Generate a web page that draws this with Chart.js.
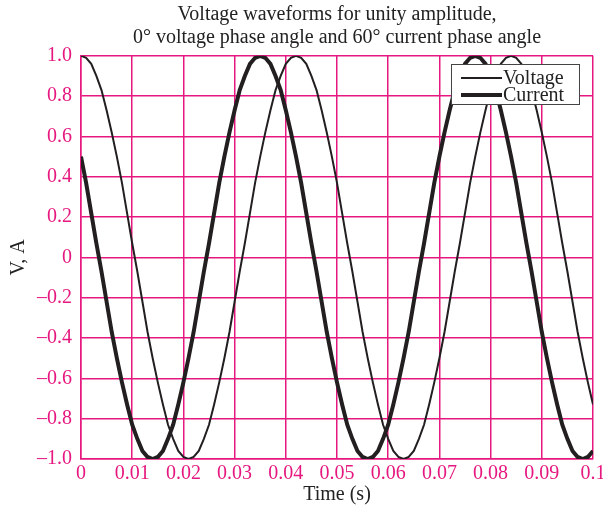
<!DOCTYPE html>
<html>
<head>
<meta charset="utf-8">
<script src="https://cdn.jsdelivr.net/npm/chart.js@4.4.1/dist/chart.umd.min.js"></script>
<style>
  body { margin: 0; background: #fff; }
  #wrap { width: 603px; height: 509px; }
</style>
</head>
<body>
<div id="wrap"><canvas id="wave" width="603" height="509"></canvas></div>
<script>
// time samples (s), read every 1 ms
const times = [
  0.000,0.001,0.002,0.003,0.004,0.005,0.006,0.007,0.008,0.009,
  0.010,0.011,0.012,0.013,0.014,0.015,0.016,0.017,0.018,0.019,
  0.020,0.021,0.022,0.023,0.024,0.025,0.026,0.027,0.028,0.029,
  0.030,0.031,0.032,0.033,0.034,0.035,0.036,0.037,0.038,0.039,
  0.040,0.041,0.042,0.043,0.044,0.045,0.046,0.047,0.048,0.049,
  0.050,0.051,0.052,0.053,0.054,0.055,0.056,0.057,0.058,0.059,
  0.060,0.061,0.062,0.063,0.064,0.065,0.066,0.067,0.068,0.069,
  0.070,0.071,0.072,0.073,0.074,0.075,0.076,0.077,0.078,0.079,
  0.080,0.081,0.082,0.083,0.084,0.085,0.086,0.087,0.088,0.089,
  0.090,0.091,0.092,0.093,0.094,0.095,0.096,0.097,0.098,0.099,
  0.100
];

const voltage = [
  1.00,0.99,0.96,0.90,0.83,0.73,0.62,0.50,0.37,0.22,
  0.07,-0.07,-0.22,-0.37,-0.50,-0.62,-0.73,-0.83,-0.90,-0.96,
  -0.99,-1.00,-0.99,-0.96,-0.90,-0.83,-0.73,-0.62,-0.50,-0.37,
  -0.22,-0.07,0.07,0.22,0.37,0.50,0.62,0.73,0.83,0.90,
  0.96,0.99,1.00,0.99,0.96,0.90,0.83,0.73,0.62,0.50,
  0.37,0.22,0.07,-0.07,-0.22,-0.37,-0.50,-0.62,-0.73,-0.83,
  -0.90,-0.96,-0.99,-1.00,-0.99,-0.96,-0.90,-0.83,-0.73,-0.62,
  -0.50,-0.37,-0.22,-0.07,0.07,0.22,0.37,0.50,0.62,0.73,
  0.83,0.90,0.96,0.99,1.00,0.99,0.96,0.90,0.83,0.73,
  0.62,0.50,0.37,0.22,0.07,-0.07,-0.22,-0.37,-0.50,-0.62,
  -0.73
];

const current = [
  0.50,0.37,0.22,0.07,-0.07,-0.22,-0.37,-0.50,-0.62,-0.73,
  -0.83,-0.90,-0.96,-0.99,-1.00,-0.99,-0.96,-0.90,-0.83,-0.73,
  -0.62,-0.50,-0.37,-0.22,-0.07,0.07,0.22,0.37,0.50,0.62,
  0.73,0.83,0.90,0.96,0.99,1.00,0.99,0.96,0.90,0.83,
  0.73,0.62,0.50,0.37,0.22,0.07,-0.07,-0.22,-0.37,-0.50,
  -0.62,-0.73,-0.83,-0.90,-0.96,-0.99,-1.00,-0.99,-0.96,-0.90,
  -0.83,-0.73,-0.62,-0.50,-0.37,-0.22,-0.07,0.07,0.22,0.37,
  0.50,0.62,0.73,0.83,0.90,0.96,0.99,1.00,0.99,0.96,
  0.90,0.83,0.73,0.62,0.50,0.37,0.22,0.07,-0.07,-0.22,
  -0.37,-0.50,-0.62,-0.73,-0.83,-0.90,-0.96,-0.99,-1.00,-0.99,
  -0.96
];

const seriesNames = ['Voltage', 'Current'];
const titleLines = ['Voltage waveforms for unity amplitude,', '0\u00b0 voltage phase angle and 60\u00b0 current phase angle'];

const pink = '#e6187f';
const ink = '#231f20';
const serif = 'Liberation Serif';

function toPoints(arr){
    return arr.map(function(v, i){ return {x: times[i], y: v}; });
}

// legend box in the top right corner of the plot
const boxLegend = {
    id: 'boxLegend',
    afterDraw: function(chart){
        const ctx = chart.ctx;
        const x = 451, y = 64, w = 128, h = 40;
        ctx.save();
        ctx.fillStyle = '#fff';
        ctx.fillRect(x, y, w, h);
        ctx.strokeStyle = '#444';
        ctx.lineWidth = 1;
        ctx.strokeRect(x + 0.5, y + 0.5, w, h);
        ctx.font = '20px "' + serif + '"';
        ctx.textBaseline = 'middle';
        chart.data.datasets.forEach(function(ds, i){
            const ly = y + 14 + i * 17;
            ctx.strokeStyle = ds.borderColor;
            ctx.lineWidth = ds.borderWidth;
            ctx.beginPath();
            ctx.moveTo(x + 10, ly);
            ctx.lineTo(x + 51, ly);
            ctx.stroke();
            ctx.fillStyle = '#222';
            ctx.fillText(ds.label, x + 52, ly + 1);
        });
        ctx.restore();
    }
};

new Chart(document.getElementById('wave'), {
    type: 'line',
    data: {
        datasets: [{
            label: seriesNames[0],
            data: toPoints(voltage),
            borderColor: ink,
            borderWidth: 2,
            pointRadius: 0,
            tension: 0
        }, {
            label: seriesNames[1],
            data: toPoints(current),
            borderColor: ink,
            borderWidth: 4,
            pointRadius: 0,
            tension: 0
        }]
    },
    options: {
        responsive: false,
        animation: false,
        layout: { padding: { left: 0, right: 10, top: 0, bottom: 0 } },
        plugins: {
            legend: { display: false },
            tooltip: { enabled: false },
            title: {
                display: true,
                text: titleLines,
                color: '#222',
                fullSize: false,
                font: { family: serif, size: 20, weight: 'normal', lineHeight: 1.12 },
                padding: { top: 4, bottom: 7 }
            }
        },
        scales: {
            x: {
                type: 'linear',
                min: 0,
                max: 0.1,
                border: { color: pink, width: 1.5 },
                grid: { color: pink, lineWidth: 1.5, drawTicks: false },
                ticks: {
                    stepSize: 0.01,
                    color: pink,
                    padding: 3,
                    maxRotation: 0,
                    font: { family: serif, size: 20 },
                    callback: function(v){ return String(+v.toFixed(2)); }
                },
                title: {
                    display: true,
                    text: 'Time (s)',
                    color: '#222',
                    font: { family: serif, size: 20 },
                    padding: { top: 0, bottom: 2 }
                },
                afterFit: function(s){ s.height = 50; s.paddingLeft = 0; s.paddingRight = 0; }
            },
            y: {
                min: -1,
                max: 1,
                border: { color: pink, width: 1.5 },
                grid: { color: pink, lineWidth: 1.5, drawTicks: false },
                ticks: {
                    stepSize: 0.2,
                    color: pink,
                    padding: 9,
                    font: { family: serif, size: 20 },
                    callback: function(v){
                        if (Math.abs(v) < 1e-9) return '0';
                        return (v < 0 ? '\u2013' : '') + Math.abs(v).toFixed(1);
                    }
                },
                title: {
                    display: true,
                    text: 'V, A',
                    color: '#222',
                    font: { family: serif, size: 20 },
                    padding: { top: 7, bottom: 0 }
                },
                afterFit: function(s){ s.width = 81; }
            }
        }
    },
    plugins: [boxLegend]
});
</script>
</body>
</html>
